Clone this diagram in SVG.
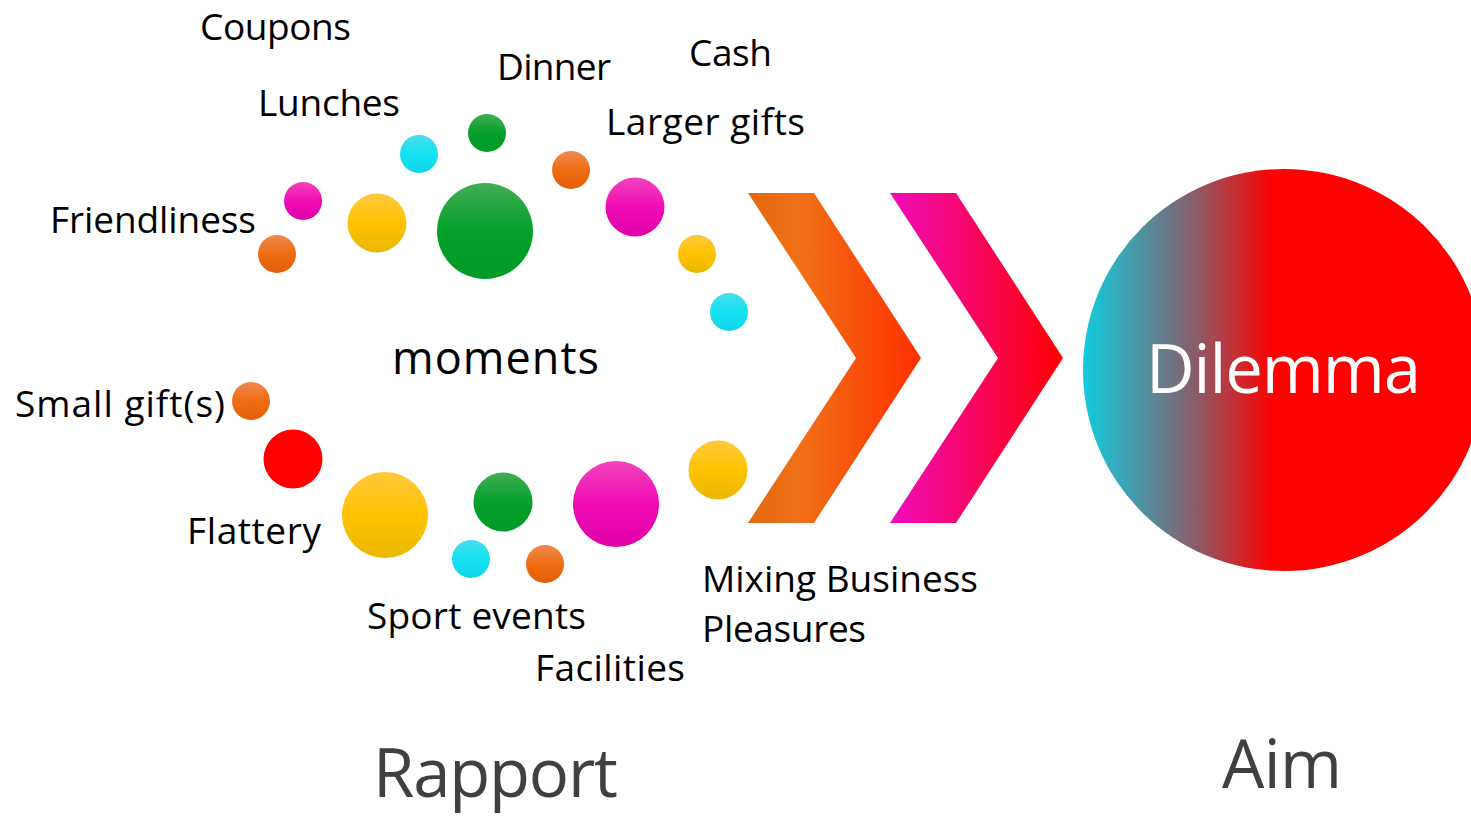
<svg xmlns="http://www.w3.org/2000/svg" width="1471" height="817" viewBox="0 0 1471 817">
<style>
.lbl{font-family:"Open Sans","Noto Sans","Liberation Sans",sans-serif;font-size:37px;fill:#000}
.big{font-family:"Open Sans","Noto Sans","Liberation Sans",sans-serif;font-size:67px;fill:#404040}
</style>
<defs>
<linearGradient id="gGreen" x1="0" y1="0" x2="0" y2="1"><stop offset="0" stop-color="#43ad55"/><stop offset="0.5" stop-color="#03a02a"/><stop offset="1" stop-color="#009a28"/></linearGradient>
<linearGradient id="gYellow" x1="0" y1="0" x2="0" y2="1"><stop offset="0" stop-color="#ffc83e"/><stop offset="0.5" stop-color="#ffc300"/><stop offset="1" stop-color="#e9b800"/></linearGradient>
<linearGradient id="gOrange" x1="0" y1="0" x2="0" y2="1"><stop offset="0" stop-color="#ef8a50"/><stop offset="0.5" stop-color="#f06c12"/><stop offset="1" stop-color="#e35e08"/></linearGradient>
<linearGradient id="gMagenta" x1="0" y1="0" x2="0" y2="1"><stop offset="0" stop-color="#f244bc"/><stop offset="0.5" stop-color="#f00cb4"/><stop offset="1" stop-color="#e000a8"/></linearGradient>
<linearGradient id="gCyan" x1="0" y1="0" x2="0" y2="1"><stop offset="0" stop-color="#48dcec"/><stop offset="0.5" stop-color="#14e2f2"/><stop offset="1" stop-color="#0ed6e8"/></linearGradient>
<linearGradient id="gChev1" gradientUnits="userSpaceOnUse" x1="748" y1="0" x2="921" y2="0"><stop offset="0" stop-color="#e4680e"/><stop offset="0.3" stop-color="#f07016"/><stop offset="1" stop-color="#ff3000"/></linearGradient>
<linearGradient id="gChev2" gradientUnits="userSpaceOnUse" x1="890" y1="0" x2="1063" y2="0"><stop offset="0" stop-color="#f00cbc"/><stop offset="1" stop-color="#ff0000"/></linearGradient>
<linearGradient id="gAim" gradientUnits="userSpaceOnUse" x1="1083" y1="0" x2="1485" y2="0"><stop offset="0" stop-color="#0fcde0"/><stop offset="0.28" stop-color="#8a5c68"/><stop offset="0.47" stop-color="#fd0202"/><stop offset="1" stop-color="#ff0000"/></linearGradient>
</defs>
<rect width="1471" height="817" fill="#fff"/>

<g id="bubbles">
<circle cx="277" cy="254" r="19" fill="url(#gOrange)"/>
<circle cx="303" cy="201" r="19" fill="url(#gMagenta)"/>
<circle cx="377" cy="223" r="29.5" fill="url(#gYellow)"/>
<circle cx="419" cy="154" r="19" fill="url(#gCyan)"/>
<circle cx="487" cy="133" r="19" fill="url(#gGreen)"/>
<circle cx="485" cy="231" r="48" fill="url(#gGreen)"/>
<circle cx="571" cy="170" r="19" fill="url(#gOrange)"/>
<circle cx="635" cy="207" r="29.5" fill="url(#gMagenta)"/>
<circle cx="697" cy="254" r="19" fill="url(#gYellow)"/>
<circle cx="729" cy="312" r="19" fill="url(#gCyan)"/>
<circle cx="251" cy="401" r="19" fill="url(#gOrange)"/>
<circle cx="293" cy="459" r="29.5" fill="#ff0000"/>
<circle cx="385" cy="515" r="43" fill="url(#gYellow)"/>
<circle cx="503" cy="502" r="29.5" fill="url(#gGreen)"/>
<circle cx="471" cy="559" r="19" fill="url(#gCyan)"/>
<circle cx="545" cy="564" r="19" fill="url(#gOrange)"/>
<circle cx="616" cy="504" r="43" fill="url(#gMagenta)"/>
<circle cx="718" cy="470" r="29.5" fill="url(#gYellow)"/>
</g>

<g id="chevron1"><polygon points="748,193 814,193 921,358 814,523 748,523 856,358" fill="url(#gChev1)"/></g>
<g id="chevron2"><polygon points="890,193 956,193 1063,358 956,523 890,523 998,358" fill="url(#gChev2)"/></g>

<g id="aim">
<circle cx="1284" cy="370" r="201" fill="url(#gAim)"/>
<text x="1146" y="393" class="big" style="fill:#fff" textLength="275">Dilemma</text>
</g>

<g id="labels">
<text class="lbl" x="200" y="40" textLength="151">Coupons</text>
<text class="lbl" x="258" y="116" textLength="142">Lunches</text>
<text class="lbl" x="497" y="80" textLength="114">Dinner</text>
<text class="lbl" x="689" y="66" textLength="83">Cash</text>
<text class="lbl" x="606" y="135" textLength="199">Larger gifts</text>
<text class="lbl" x="50" y="233" textLength="206">Friendliness</text>
<text class="lbl" x="392" y="374" style="font-size:45px" textLength="207">moments</text>
<text class="lbl" x="15" y="417" textLength="210">Small gift(s)</text>
<text class="lbl" x="187" y="544" textLength="134">Flattery</text>
<text class="lbl" x="367" y="629" textLength="219">Sport events</text>
<text class="lbl" x="535" y="681" textLength="150">Facilities</text>
<text class="lbl" x="702" y="592" textLength="276">Mixing Business</text>
<text class="lbl" x="702" y="642" textLength="164">Pleasures</text>
</g>

<g id="titles">
<text class="big" x="373" y="797" textLength="245">Rapport</text>
<text class="big" x="1222" y="788" textLength="120">Aim</text>
</g>
</svg>
